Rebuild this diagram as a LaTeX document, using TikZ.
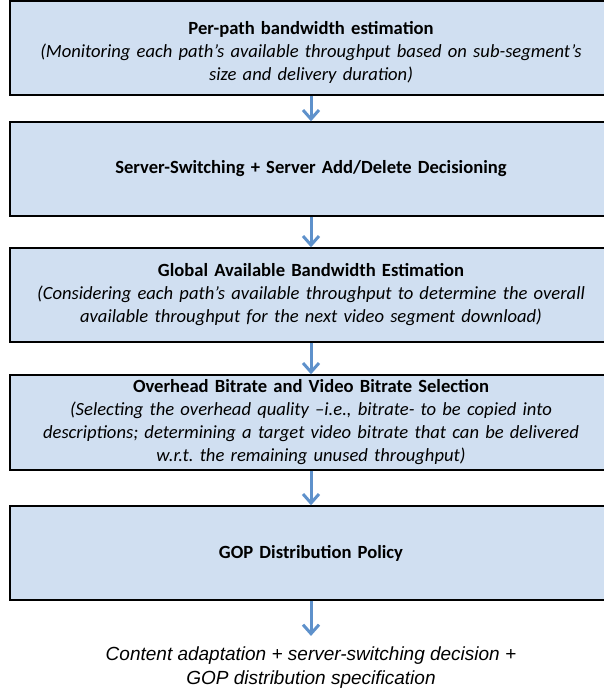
\documentclass[tikz,border=0pt]{standalone}
\usepackage{fontspec}
\setmainfont{Carlito}
\newfontfamily\arialfont{Liberation Sans}
\usetikzlibrary{arrows.meta}
\frenchspacing
\definecolor{boxfill}{RGB}{208,223,241}
\definecolor{arrowblue}{RGB}{94,145,203}
\tikzset{
  flowbox/.style={draw=black, line width=1.4pt, fill=boxfill, minimum width=602pt,
    text width=595pt, align=center, inner sep=0pt, font=\fontsize{18.6}{23}\selectfont},
  flowarrow/.style={draw=arrowblue, line width=3pt,
    -{Straight Barb[length=9pt,width=16pt,line width=3pt]}}
}
\begin{document}
\begin{tikzpicture}[x=1pt,y=1pt]
\useasboundingbox (0,0) rectangle (604,-689);
\node[flowbox, minimum height=94pt] (b1) at (311,-48)
  {\rule{0pt}{22pt}\textbf{Per-path bandwidth estimation}\\
   \textit{(Monitoring each path’s available throughput based on sub-segment’s}\\
   \textit{size and delivery duration)}};
\node[flowbox, minimum height=94pt] (b2) at (311,-169)
  {\textbf{Server-Switching + Server Add/Delete Decisioning}};
\node[flowbox, minimum height=94pt] (b3) at (311,-295)
  {\textbf{Global Available Bandwidth Estimation}\\
   \textit{(Considering each path’s available throughput to determine the overall}\\
   \textit{available throughput for the next video segment download)}};
\node[flowbox, minimum height=95pt] (b4) at (311,-422.5)
  {\textbf{Overhead Bitrate and Video Bitrate Selection}\\
   \textit{(Selecting the overhead quality –i.e., bitrate- to be copied into}\\
   \textit{descriptions; determining a target video bitrate that can be delivered}\\
   \textit{w.r.t. the remaining unused throughput)}};
\node[flowbox, minimum height=94pt] (b5) at (311,-553)
  {\textbf{GOP Distribution Policy}};
\node[align=center, inner sep=0pt, font=\arialfont\itshape\fontsize{19}{24}\selectfont] (out) at (311,-668)
  {Content adaptation + server-switching decision +\\GOP distribution specification};
\draw[flowarrow] (b1.south) -- (b2.north);
\draw[flowarrow] (b2.south) -- (b3.north);
\draw[flowarrow] (b3.south) -- (b4.north);
\draw[flowarrow] (b4.south) -- (b5.north);
\draw[flowarrow] (b5.south) -- ([yshift=11pt]out.north);
\end{tikzpicture}
\end{document}
